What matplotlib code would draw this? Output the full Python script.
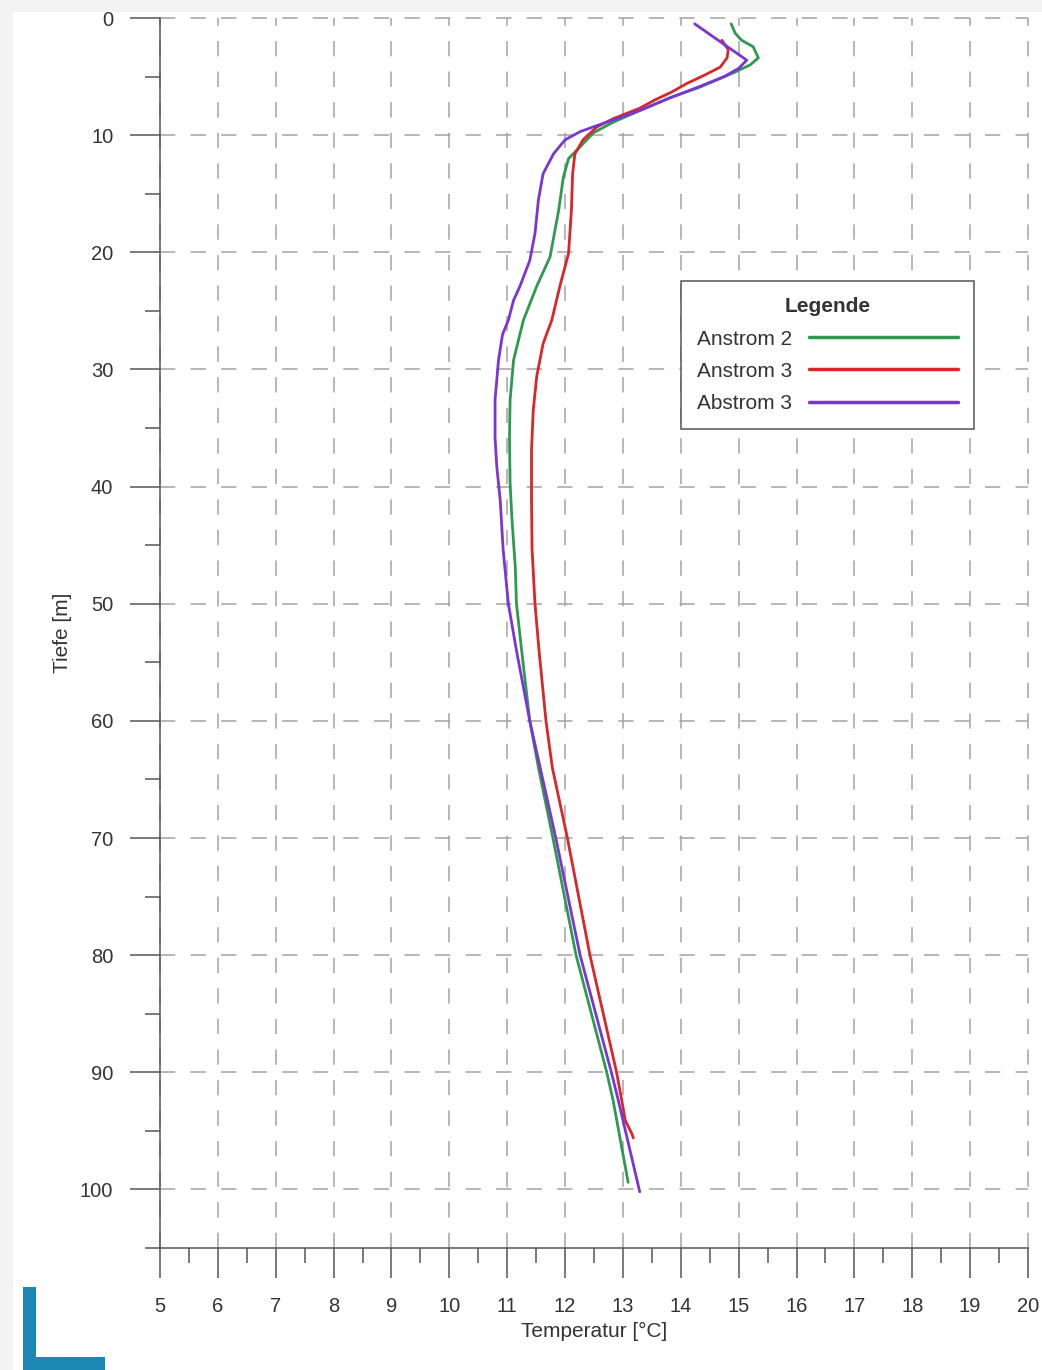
import matplotlib
matplotlib.use("Agg")
import matplotlib.pyplot as plt
from matplotlib.patches import Rectangle
from matplotlib.ticker import MultipleLocator

plt.rcParams['font.family'] = ['Liberation Sans', 'DejaVu Sans']

# ---- data (depth in m, temperature in °C) ----
anstrom2_depth = [0.5, 1.3, 1.9, 2.45, 3.4, 4.0, 4.7, 5.9, 6.8, 7.9, 8.9, 9.8, 11.0, 12.0,
                  13.6, 16.4, 20.4, 22.9, 25.8, 29.2, 32.6, 35.8, 39.7, 42.6, 46.9, 50, 54,
                  60, 64, 70, 80, 90, 92.4, 99.4]
anstrom2_temp = [14.87, 14.94, 15.05, 15.25, 15.34, 15.2, 14.9, 14.33, 13.82, 13.29, 12.83,
                 12.49, 12.26, 12.06, 11.97, 11.89, 11.74, 11.51, 11.28, 11.11, 11.05, 11.04,
                 11.05, 11.08, 11.14, 11.16, 11.25, 11.39, 11.54, 11.79, 12.19, 12.72, 12.83,
                 13.09]

anstrom3_depth = [1.9, 2.7, 3.4, 4.2, 4.9, 5.6, 6.3, 7.0, 7.7, 8.6, 9.3, 10.4, 11.6, 13.3,
                  16.4, 20.1, 22.9, 25.8, 27.8, 30.6, 33.5, 36.9, 41.2, 45.4, 50, 54, 60,
                  64, 70, 80, 90, 92.4, 94.1, 95.2, 95.6]
anstrom3_temp = [14.71, 14.82, 14.80, 14.68, 14.4, 14.1, 13.85, 13.55, 13.29, 12.83, 12.55,
                 12.31, 12.17, 12.13, 12.11, 12.06, 11.91, 11.77, 11.62, 11.51, 11.45, 11.42,
                 11.42, 11.43, 11.48, 11.55, 11.67, 11.78, 12.04, 12.43, 12.89, 12.98, 13.04,
                 13.15, 13.18]

abstrom3_depth = [0.5, 3.6, 4.3, 5.0, 5.9, 6.8, 7.9, 8.5, 9.1, 9.7, 10.4, 11.6, 13.3, 15.5,
                  18.4, 20.7, 22.9, 24.1, 25.8, 27.0, 29.2, 32.6, 35.8, 38.3, 41.2, 45.4,
                  50, 54, 60, 64, 70, 80, 90, 92.4, 100.2]
abstrom3_temp = [14.24, 15.14, 15.0, 14.75, 14.3, 13.82, 13.29, 12.95, 12.6, 12.26, 12.0,
                 11.80, 11.62, 11.54, 11.48, 11.39, 11.22, 11.11, 11.02, 10.92, 10.85, 10.79,
                 10.79, 10.82, 10.88, 10.93, 11.02, 11.16, 11.39, 11.57, 11.84, 12.26, 12.80,
                 12.92, 13.29]

series_labels = ["Anstrom 2", "Anstrom 3", "Abstrom 3"]
series_colors = ["#2e9a4e", "#d9262b", "#7b35d4"]

x_ticks = list(range(5, 21))
y_ticks = list(range(0, 101, 10))

# ---- figure ----
fig = plt.figure(figsize=(10.42, 13.70), dpi=100, facecolor="#f3f3f3")
fig.patches.append(Rectangle((13 / 1042, 0), 1 - 13 / 1042, 1 - 12 / 1370,
                             transform=fig.transFigure, facecolor="white",
                             edgecolor="none", zorder=-10))
# logo "L"
logo_c = "#1b87b5"
fig.patches.append(Rectangle((23 / 1042, 0), 13 / 1042, 83 / 1370,
                             transform=fig.transFigure, facecolor=logo_c, edgecolor="none"))
fig.patches.append(Rectangle((23 / 1042, 0), 82 / 1042, 13 / 1370,
                             transform=fig.transFigure, facecolor=logo_c, edgecolor="none"))

ax = fig.add_axes([160 / 1042, 1 - 1248 / 1370, 868 / 1042, 1230 / 1370])
ax.set_facecolor("none")

for d, t, lab, col in zip([anstrom2_depth, anstrom3_depth, abstrom3_depth],
                          [anstrom2_temp, anstrom3_temp, abstrom3_temp],
                          series_labels, series_colors):
    ax.plot(t, d, color=col, lw=2.0, label=lab, zorder=3,
            solid_joinstyle="round", solid_capstyle="round")

ax.set_xlim(5, 20)
ax.set_ylim(105, 0)
ax.set_xticks(x_ticks)
ax.set_yticks(y_ticks)
ax.xaxis.set_minor_locator(MultipleLocator(0.5))
ax.yaxis.set_minor_locator(MultipleLocator(5))

for s in ["top", "right"]:
    ax.spines[s].set_visible(False)
for s in ["left", "bottom"]:
    ax.spines[s].set_color("#555555")
    ax.spines[s].set_linewidth(1.1)

tick_c = "#555555"
ax.tick_params(axis="both", which="major", length=21.6, width=1.1, color=tick_c,
               labelsize=14.5, labelcolor="#333333")
ax.tick_params(axis="both", which="minor", length=10.8, width=1.1, color=tick_c)
ax.tick_params(axis="x", which="major", pad=13.5)
ax.tick_params(axis="y", which="major", pad=12)

ax.grid(True, which="major", color="#a3a3a3", linestyle=(0, (10, 10)), linewidth=1.1)
for gl in ax.get_xgridlines() + ax.get_ygridlines():
    gl.set_clip_on(False)

ax.set_xlabel("Temperatur [°C]", fontsize=15, color="#333333", labelpad=4.5)
ax.set_ylabel("Tiefe [m]", fontsize=15, color="#333333", labelpad=6)

leg = ax.legend(loc="upper left", bbox_to_anchor=(0.600, 0.786), borderaxespad=0,
                title="Legende", title_fontproperties={"weight": "bold", "size": 15},
                fontsize=15, markerfirst=False, handlelength=7.15, handletextpad=0.8,
                labelspacing=0.63, borderpad=0.78, fancybox=False, framealpha=1,
                edgecolor="#555555")
leg.get_frame().set_linewidth(1.1)
for line in leg.get_lines():
    line.set_linewidth(2.5)
for txt in leg.get_texts():
    txt.set_color("#333333")
leg.get_title().set_color("#333333")
leg.set_zorder(5)

fig.savefig("out.png", dpi=100, facecolor=fig.get_facecolor())
